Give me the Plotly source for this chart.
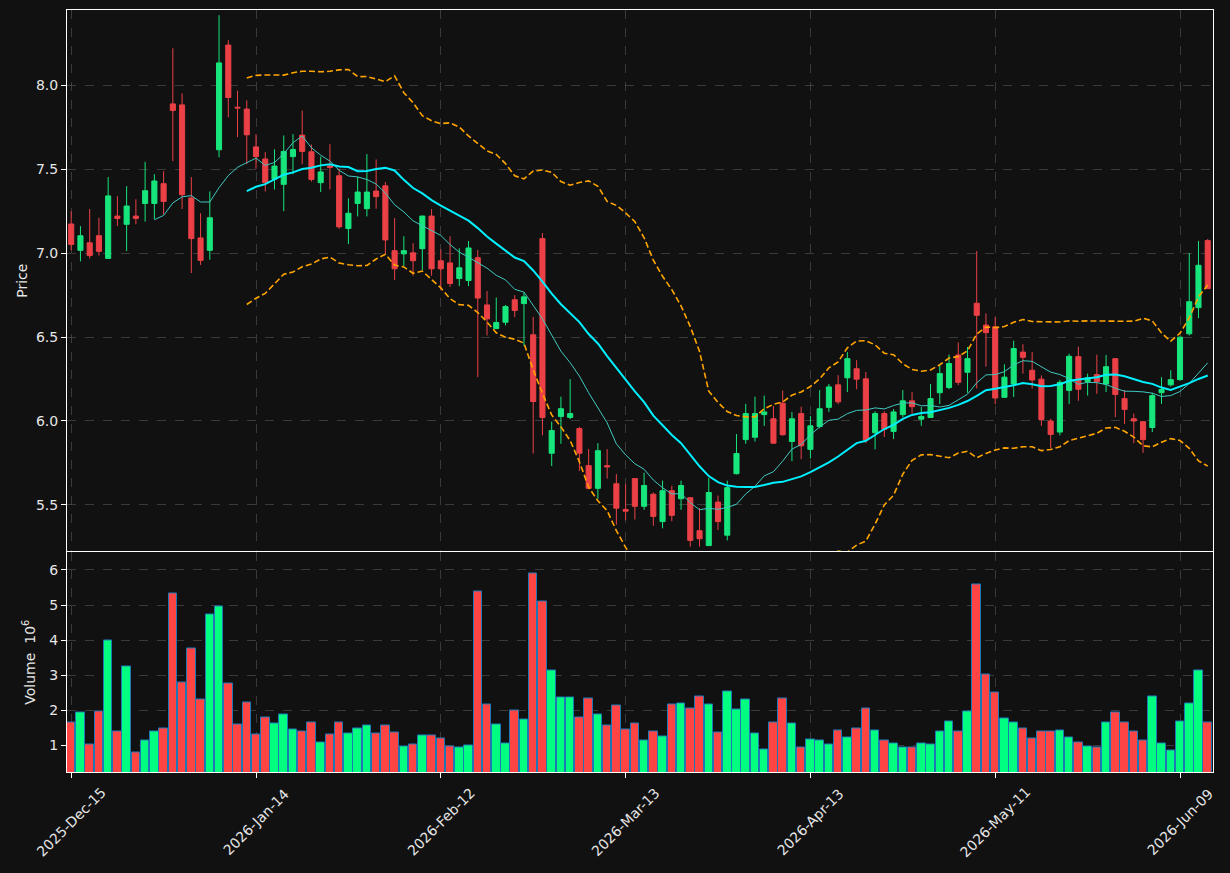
import plotly.graph_objects as go
import pandas as pd

# ---------------- data ----------------
tick_index = [0, 20, 40, 60, 80, 100, 120]
tick_labels = ["2025-Dec-15", "2026-Jan-14", "2026-Feb-12", "2026-Mar-13",
               "2026-Apr-13", "2026-May-11", "2026-Jun-09"]

opens = [7.173, 7.016, 7.061, 7.103, 6.968, 7.220, 7.171, 7.220, 7.295, 7.295,
         7.413, 7.888, 7.882, 7.328, 7.090, 7.016, 7.615, 8.238, 7.868, 7.857,
         7.632, 7.560, 7.440, 7.409, 7.574, 7.702, 7.603, 7.419, 7.518, 7.460,
         7.146, 7.295, 7.264, 7.369, 7.400, 7.014, 6.995, 7.001, 7.026, 7.220,
         6.954, 6.941, 6.848, 6.836, 6.972, 6.691, 6.550, 6.588, 6.722, 6.699,
         6.513, 7.086, 5.808, 6.027, 6.021, 5.955, 5.734, 5.599, 5.734, 5.626,
         5.473, 5.657, 5.492, 5.564, 5.401, 5.585, 5.537, 5.543, 5.347, 5.258,
         5.517, 5.320, 5.686, 5.889, 5.903, 6.038, 6.013, 6.106, 5.878, 6.044,
         5.831, 5.967, 6.081, 6.215, 6.257, 6.311, 6.251, 5.930, 6.044, 5.938,
         6.038, 6.120, 6.011, 6.021, 6.168, 6.199, 6.393, 6.290, 6.701, 6.571,
         6.561, 6.141, 6.220, 6.410, 6.302, 6.249, 6.000, 5.934, 6.182, 6.383,
         6.234, 6.276, 6.220, 6.371, 6.133, 6.013, 5.996, 5.961, 6.168, 6.215,
         6.246, 6.519, 6.675, 7.074]
highs = [7.249, 7.160, 7.262, 7.210, 7.452, 7.338, 7.398, 7.320, 7.543, 7.469,
         7.487, 8.219, 7.950, 7.452, 7.237, 7.367, 8.416, 8.267, 7.967, 7.909,
         7.708, 7.601, 7.617, 7.700, 7.708, 7.849, 7.646, 7.574, 7.648, 7.502,
         7.326, 7.454, 7.589, 7.557, 7.423, 7.208, 7.100, 7.059, 7.224, 7.262,
         7.022, 7.100, 7.028, 7.072, 7.018, 6.774, 6.735, 6.691, 6.749, 6.766,
         6.619, 7.119, 5.996, 6.145, 6.249, 5.965, 5.833, 5.868, 5.833, 5.684,
         5.626, 5.660, 5.692, 5.574, 5.645, 5.614, 5.645, 5.545, 5.481, 5.661,
         5.556, 5.645, 5.922, 6.102, 6.145, 6.151, 6.089, 6.182, 6.054, 6.085,
         6.029, 6.184, 6.220, 6.273, 6.410, 6.362, 6.292, 6.058, 6.058, 6.071,
         6.184, 6.172, 6.083, 6.220, 6.331, 6.395, 6.468, 6.441, 7.012, 6.641,
         6.619, 6.337, 6.478, 6.457, 6.410, 6.271, 6.013, 6.244, 6.400, 6.443,
         6.282, 6.395, 6.393, 6.373, 6.184, 6.044, 5.998, 6.168, 6.261, 6.302,
         6.503, 7.000, 7.072, 7.084]
lows = [7.016, 6.950, 6.968, 6.985, 6.968, 7.160, 7.012, 7.171, 7.187, 7.202,
        7.229, 7.547, 7.262, 6.881, 6.929, 6.960, 7.570, 7.808, 7.690, 7.529,
        7.502, 7.367, 7.378, 7.249, 7.469, 7.529, 7.425, 7.363, 7.378, 7.144,
        7.053, 7.218, 7.218, 7.264, 6.995, 6.840, 6.923, 6.865, 6.898, 6.865,
        6.778, 6.799, 6.803, 6.803, 6.261, 6.509, 6.548, 6.569, 6.619, 6.447,
        5.806, 5.914, 5.732, 5.864, 6.011, 5.703, 5.593, 5.537, 5.657, 5.382,
        5.409, 5.413, 5.471, 5.376, 5.361, 5.403, 5.471, 5.252, 5.252, 5.256,
        5.351, 5.289, 5.682, 5.864, 5.878, 5.971, 5.864, 5.912, 5.761, 5.773,
        5.777, 5.957, 6.054, 6.100, 6.172, 6.189, 5.868, 5.831, 5.905, 5.893,
        6.023, 6.044, 5.971, 6.019, 6.100, 6.189, 6.213, 6.168, 6.193, 6.323,
        6.100, 6.139, 6.143, 6.282, 6.193, 5.971, 5.837, 5.914, 6.102, 6.120,
        6.151, 6.162, 6.172, 6.023, 5.982, 5.868, 5.810, 5.934, 6.102, 6.205,
        6.240, 6.509, 6.612, 6.786]
closes = [7.051, 7.103, 6.985, 7.010, 7.340, 7.206, 7.280, 7.206, 7.371, 7.429,
          7.307, 7.849, 7.347, 7.086, 6.956, 7.210, 8.132, 7.926, 7.864, 7.704,
          7.574, 7.419, 7.518, 7.605, 7.617, 7.605, 7.438, 7.483, 7.510, 7.156,
          7.237, 7.363, 7.363, 7.336, 7.078, 6.906, 7.014, 6.954, 7.220, 6.906,
          6.906, 6.819, 6.912, 7.030, 6.732, 6.608, 6.586, 6.681, 6.658, 6.739,
          6.116, 6.021, 5.943, 6.073, 6.044, 5.808, 5.599, 5.823, 5.727, 5.481,
          5.463, 5.492, 5.616, 5.432, 5.585, 5.438, 5.616, 5.289, 5.299, 5.574,
          5.401, 5.603, 5.806, 6.044, 6.044, 6.054, 5.868, 5.918, 6.013, 5.852,
          5.971, 6.073, 6.203, 6.114, 6.371, 6.249, 5.889, 6.044, 5.951, 6.054,
          6.120, 6.085, 6.027, 6.133, 6.282, 6.342, 6.230, 6.371, 6.629, 6.526,
          6.137, 6.261, 6.431, 6.379, 6.244, 6.009, 5.920, 6.230, 6.385, 6.189,
          6.257, 6.234, 6.323, 6.158, 6.069, 6.000, 5.889, 6.151, 6.187, 6.246,
          6.499, 6.710, 6.927, 6.788]
volumes = [1.66, 1.92, 1.03, 1.95, 3.99, 1.38, 3.25, 0.78, 1.12, 1.38,
           1.49, 5.34, 2.79, 3.75, 2.30, 4.73, 4.96, 2.76, 1.59, 2.21,
           1.30, 1.78, 1.61, 1.87, 1.46, 1.40, 1.66, 1.09, 1.30, 1.64,
           1.32, 1.49, 1.55, 1.32, 1.55, 1.35, 0.97, 1.03, 1.29, 1.29,
           1.20, 0.97, 0.94, 1.00, 5.39, 2.16, 1.58, 1.06, 1.98, 1.72,
           5.91, 5.10, 3.14, 2.36, 2.36, 1.78, 2.33, 1.87, 1.55, 2.13,
           1.46, 1.61, 1.14, 1.38, 1.26, 2.16, 2.18, 2.05, 2.39, 2.16,
           1.35, 2.53, 2.01, 2.30, 1.32, 0.88, 1.66, 2.33, 1.61, 0.94,
           1.17, 1.14, 1.03, 1.43, 1.23, 1.49, 2.04, 1.43, 1.14, 1.06,
           0.94, 0.94, 1.06, 1.03, 1.40, 1.69, 1.40, 1.95, 5.58, 3.02,
           2.50, 1.75, 1.64, 1.49, 1.20, 1.38, 1.38, 1.43, 1.23, 1.09,
           0.97, 0.94, 1.66, 1.92, 1.64, 1.40, 1.14, 2.39, 1.06, 0.86,
           1.69, 2.18, 3.14, 1.64]

# ---------------- derived indicators ----------------
x = list(range(len(closes)))
cs = pd.Series(closes)
ma10 = cs.rolling(10).mean()
ma20 = cs.rolling(20).mean()
sd20 = cs.rolling(20).std(ddof=0)
bb_up = ma20 + 2 * sd20
bb_lo = ma20 - 2 * sd20

UP_C = "#17e67d"
DN_C = "#ec4047"
VUP_C = "#00ff80"
VDN_C = "#ff4444"
vol_colors = [VUP_C if c >= o else VDN_C for o, c in zip(opens, closes)]

BG = "#111111"
TXT = "#e6e6e6"
GRID = "rgba(100,100,100,0.5)"
FONT = "DejaVu Sans"
FS = 14

fig = go.Figure()

fig.add_trace(go.Candlestick(
    x=x, open=opens, high=highs, low=lows, close=closes,
    increasing=dict(line=dict(color=UP_C, width=1), fillcolor=UP_C),
    decreasing=dict(line=dict(color=DN_C, width=1), fillcolor=DN_C),
    whiskerwidth=0, xaxis="x", yaxis="y", showlegend=False, hoverinfo="skip"))

fig.add_trace(go.Scatter(x=x, y=ma10, mode="lines",
                         line=dict(color="#3fc9c0", width=1),
                         xaxis="x", yaxis="y", showlegend=False))
fig.add_trace(go.Scatter(x=x, y=ma20, mode="lines",
                         line=dict(color="#00f0ff", width=2),
                         xaxis="x", yaxis="y", showlegend=False))
for band in (bb_up, bb_lo):
    fig.add_trace(go.Scatter(x=x, y=band, mode="lines",
                             line=dict(color="#ffa500", width=1.6, dash="6px,3px"),
                             xaxis="x", yaxis="y", showlegend=False))

fig.add_trace(go.Bar(x=x, y=volumes, width=0.92,
                     marker=dict(color=vol_colors, line=dict(color="#1f77b4", width=1)),
                     xaxis="x2", yaxis="y2", showlegend=False))

# rotated date labels, centred on their ticks (matplotlib style)
for ti, tl in zip(tick_index, tick_labels):
    fig.add_annotation(x=ti, xref="x2", y=-0.0656, yref="paper",
                       text=tl, textangle=-45, showarrow=False,
                       xanchor="center", yanchor="middle",
                       font=dict(family=FONT, size=FS, color=TXT))

xr = [-0.455, 123.57]
common_x = dict(range=xr, tickvals=tick_index, showgrid=True, gridcolor=GRID,
                griddash="dash", gridwidth=1, zeroline=False, showline=True,
                linecolor="#ffffff", linewidth=1, mirror=True)
common_y = dict(showgrid=True, gridcolor=GRID, griddash="dash", zeroline=False,
                showline=True, linecolor="#ffffff", linewidth=1, mirror=True,
                ticks="outside", ticklen=5, tickcolor="#ffffff")

fig.update_layout(
    width=1230, height=873,
    paper_bgcolor=BG, plot_bgcolor=BG,
    margin=dict(l=67, r=17, t=10, b=101),
    font=dict(family=FONT, size=FS, color=TXT),
    bargap=0, boxgap=0.45, boxgroupgap=0,
    xaxis=dict(**common_x, anchor="y", showticklabels=False, ticks="",
               rangeslider=dict(visible=False)),
    yaxis=dict(**common_y, domain=[0.2894, 1], range=[5.223, 8.447],
               tickvals=[5.5, 6.0, 6.5, 7.0, 7.5, 8.0], tickformat=".1f",
               title=dict(text="Price", standoff=5, font=dict(size=FS))),
    xaxis2=dict(**common_x, anchor="y2", showticklabels=False,
                ticks="outside", ticklen=5, tickcolor="#ffffff",
                matches="x"),
    yaxis2=dict(**common_y, domain=[0, 0.2881], range=[0.234, 6.5],
                tickvals=[1, 2, 3, 4, 5, 6],
                title=dict(text="Volume  10<sup>6</sup>", standoff=10,
                           font=dict(size=FS))),
)

fig.write_html("out.html")
